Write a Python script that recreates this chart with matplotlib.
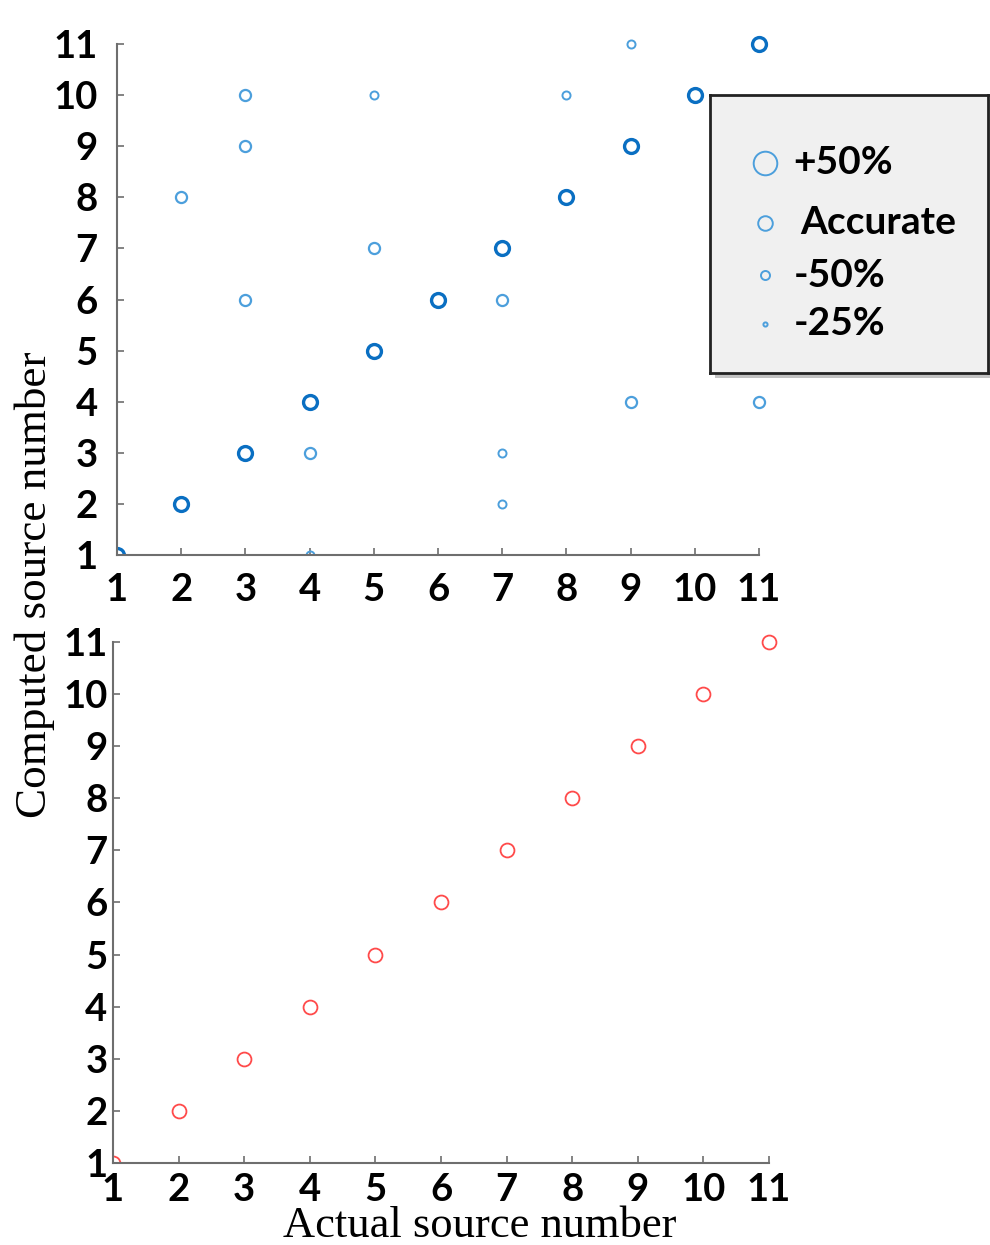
import matplotlib
matplotlib.use("Agg")
import matplotlib.pyplot as plt
from matplotlib.patches import Rectangle

# top panel: estimated vs actual source number
diag_actual = [1, 2, 3, 4, 5, 6, 7, 8, 9, 10, 11]
diag_computed = [1, 2, 3, 4, 5, 6, 7, 8, 9, 10, 11]
mid_actual = [2, 3, 3, 3, 4, 5, 7, 9, 11]
mid_computed = [8, 10, 9, 6, 3, 7, 6, 4, 4]
small_actual = [5, 8, 9, 7, 7, 4]
small_computed = [10, 10, 11, 3, 2, 1]

# bottom panel
red_actual = [1, 2, 3, 4, 5, 6, 7, 8, 9, 10, 11]
red_computed = [1, 2, 3, 4, 5, 6, 7, 8, 9, 10, 11]

legend_labels = ["+50%", "Accurate", "-50%", "-25%"]
legend_sizes = [17, 10.5, 6.5, 3]
ticks = list(range(1, 12))

dark_blue = "#0A6FC2"
light_blue = "#4C9FDC"
red = "#FF4A4A"
tick_font = "Lato"

W, H = 990, 1245
fig = plt.figure(figsize=(W / 100, H / 100), dpi=100)

EXTRA = 0.35  # room past 11 so the top/right markers are not cut


def add_panel(x1, x11, y1, y11):
    # pixel positions of value 1 and 11 -> axes rect with extra room past 11
    ux = (x11 - x1) / 10
    uy = (y1 - y11) / 10
    left = x1 / W
    bottom = (H - y1) / H
    width = (x11 - x1 + EXTRA * ux) / W
    height = (y1 - y11 + EXTRA * uy) / H
    return fig.add_axes([left, bottom, width, height])


def style_axes(ax, ylab_pad, xlab_pad):
    ax.set_xlim(1, 11 + EXTRA)
    ax.set_ylim(1, 11 + EXTRA)
    ax.set_xticks(ticks)
    ax.set_yticks(ticks)
    for s in ["top", "right"]:
        ax.spines[s].set_visible(False)
    for s in ["left", "bottom"]:
        ax.spines[s].set_color("#6e6e6e")
        ax.spines[s].set_linewidth(1.5)
        ax.spines[s].set_bounds(1, 11)
    ax.tick_params(axis="both", direction="in", length=5, width=1.2, color="#6e6e6e")
    ax.tick_params(axis="y", pad=ylab_pad)
    ax.tick_params(axis="x", pad=xlab_pad)
    for lab in ax.get_xticklabels() + ax.get_yticklabels():
        lab.set_fontfamily(tick_font)
        lab.set_fontweight("bold")
        lab.set_fontsize(27.5)
        lab.set_color("black")


ax1 = add_panel(117, 759, 555, 44)
ax1.plot(mid_actual, mid_computed, "o", ms=8, mfc="none", mec=light_blue, mew=1.6)
ax1.plot(small_actual, small_computed, "o", ms=5.8, mfc="none", mec=light_blue, mew=1.4)
ax1.plot(diag_actual, diag_computed, "o", ms=10, mfc="none", mec=dark_blue, mew=2.4)
style_axes(ax1, 14, 13)

ax2 = add_panel(113, 769, 1163, 642)
ax2.plot(red_actual, red_computed, "o", ms=10, mfc="none", mec=red, mew=1.3)
style_axes(ax2, 4, 7)

# legend box with shadow
shadow = Rectangle((0.7172 + 0.005, 0.7004 - 0.004), 0.281, 0.2233,
                   transform=fig.transFigure, facecolor="#9a9a9a",
                   edgecolor="none", alpha=0.6, zorder=1)
fig.patches.append(shadow)
lax = fig.add_axes([0.7172, 0.7004, 0.281, 0.2233])
lax.set_zorder(3)
lax.set_facecolor("#f0f0f0")
for s in lax.spines.values():
    s.set_color("#222222")
    s.set_linewidth(2)
lax.set_xticks([])
lax.set_yticks([])
lax.set_xlim(0, 1)
lax.set_ylim(0, 1)
legend_y = [0.757, 0.541, 0.351, 0.178]
legend_text_x = [0.30, 0.325, 0.30, 0.30]
for lab, sz, yy, tx in zip(legend_labels, legend_sizes, legend_y, legend_text_x):
    lax.plot([0.197], [yy], "o", ms=sz, mfc="none", mec=light_blue, mew=1.4)
    lax.text(tx, yy, lab, fontsize=28, fontweight="bold", family=tick_font,
             va="center", ha="left", color="black")

fig.text(0.0354, 0.530, "Computed source number", rotation=90, ha="center",
         va="center", fontsize=32.5, family="Liberation Serif")
fig.text(0.485, 0.0155, "Actual source number", ha="center", va="center",
         fontsize=32, family="Liberation Serif")

fig.savefig("out.png", dpi=100)
